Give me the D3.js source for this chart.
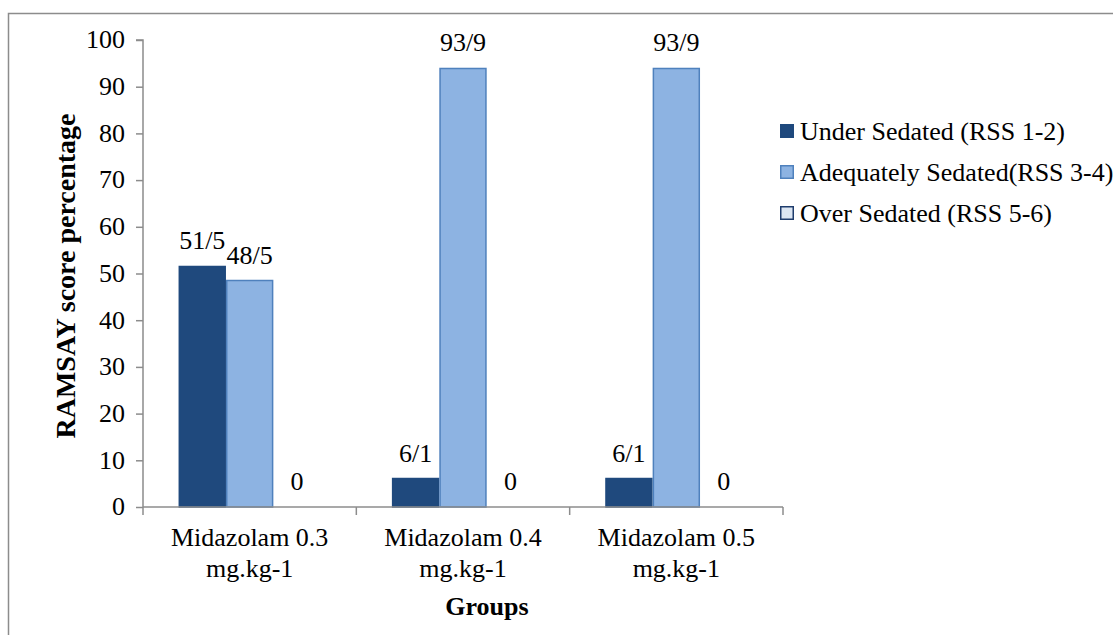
<!DOCTYPE html>
<html>
<head>
<meta charset="utf-8">
<script src="https://cdn.jsdelivr.net/npm/d3@7"></script>
<style>
  html, body { margin: 0; padding: 0; background: #fff; }
  svg { display: block; }
</style>
</head>
<body>
<svg id="chart" width="1113" height="635"></svg>
<script>
const categories = [["Midazolam 0.3", "mg.kg-1"], ["Midazolam 0.4", "mg.kg-1"], ["Midazolam 0.5", "mg.kg-1"]];
const seriesNames = ["Under Sedated (RSS 1-2)", "Adequately Sedated(RSS 3-4)", "Over Sedated (RSS 5-6)"];
const underSedated = [51.5, 6.1, 6.1];
const adequatelySedated = [48.5, 93.9, 93.9];
const overSedated = [0, 0, 0];
const underLabels = ["51/5", "6/1", "6/1"];
const adequateLabels = ["48/5", "93/9", "93/9"];
const overLabels = ["0", "0", "0"];
const yTicks = [0, 10, 20, 30, 40, 50, 60, 70, 80, 90, 100];

const FONT = '"Liberation Serif", "Times New Roman", Tinos, serif';
const fills = ["#1F497D", "#8DB3E2", "#DCE6F2"];
const strokes = ["#1F497D", "#4F81BD", "#1F3D6D"];

const svg = d3.select("#chart");

// outer chart frame
svg.append("rect").attr("x", 8.5).attr("y", 13.5).attr("width", 1200).attr("height", 700)
  .attr("fill", "none").attr("stroke", "#8c8c8c").attr("stroke-width", 1.5);

const plot = { left: 143, right: 783, top: 40, bottom: 507 };

const x0 = d3.scaleBand().domain(d3.range(categories.length)).range([plot.left, plot.right]).paddingInner(0).paddingOuter(0);
// gap width 150%: 3 bars + 1.5 bar-widths of gap per category
const x1 = d3.scaleBand().domain([0, 1, 2]).range([0, x0.bandwidth()]).paddingInner(0).paddingOuter(0.75);
const y = d3.scaleLinear().domain([0, 100]).range([plot.bottom, plot.top]);

const seriesVals = [underSedated, adequatelySedated, overSedated];
const seriesLabels = [underLabels, adequateLabels, overLabels];

// Y axis
const yAxis = d3.axisLeft(y).tickValues(yTicks).tickSize(7).tickPadding(11);
const gy = svg.append("g").attr("transform", `translate(${plot.left},0)`).call(yAxis)
  .attr("font-family", FONT).attr("font-size", 26);
gy.selectAll("path, line").attr("stroke", "#8c8c8c").attr("stroke-width", 1.5);
gy.select(".domain").attr("d", `M-7,${plot.top}H0V${plot.bottom}`);
gy.selectAll("text").attr("fill", "#000").attr("dy", "0.3em");

// Bars
categories.forEach((c, ci) => {
  seriesVals.forEach((vals, si) => {
    const v = vals[ci];
    const bx = x0(ci) + x1(si);
    const bw = x1.bandwidth();
    if (v > 0) {
      svg.append("rect")
        .attr("x", bx + 0.75).attr("y", y(v))
        .attr("width", bw - 1.5).attr("height", y(0) - y(v))
        .attr("fill", fills[si]).attr("stroke", strokes[si]).attr("stroke-width", 1.5);
    }
    svg.append("text")
      .attr("x", bx + bw / 2).attr("y", y(v) - 17)
      .attr("text-anchor", "middle").attr("font-family", FONT).attr("font-size", 26)
      .text(seriesLabels[si][ci]);
  });
});

// X axis
const gx = svg.append("g").attr("transform", `translate(0,${plot.bottom})`);
gx.append("line").attr("x1", plot.left).attr("x2", plot.right).attr("y1", 0).attr("y2", 0)
  .attr("stroke", "#8c8c8c").attr("stroke-width", 1.5);
const boundaries = d3.range(categories.length + 1).map(i => i < categories.length ? x0(i) : plot.right);
gx.selectAll("line.tick").data(boundaries).enter().append("line")
  .attr("x1", d => d).attr("x2", d => d).attr("y1", 0).attr("y2", 8)
  .attr("stroke", "#8c8c8c").attr("stroke-width", 1.5);
categories.forEach((c, ci) => {
  const cx = x0(ci) + x0.bandwidth() / 2;
  const t = gx.append("text").attr("x", cx).attr("y", 39)
    .attr("text-anchor", "middle").attr("font-family", FONT).attr("font-size", 26);
  c.forEach((line, li) => {
    t.append("tspan").attr("x", cx).attr("dy", li === 0 ? 0 : 31).text(line);
  });
});

// Axis titles
svg.append("text").attr("transform", `translate(75,276) rotate(-90)`)
  .attr("text-anchor", "middle").attr("font-family", FONT).attr("font-size", 28).attr("font-weight", "bold")
  .text("RAMSAY score percentage");
svg.append("text").attr("x", 487).attr("y", 615)
  .attr("text-anchor", "middle").attr("font-family", FONT).attr("font-size", 26).attr("font-weight", "bold")
  .text("Groups");

// Legend
const legend = svg.append("g");
seriesNames.forEach((name, i) => {
  const cy = 131 + i * 41;
  legend.append("rect").attr("x", 780.75).attr("y", cy - 6.25).attr("width", 12.5).attr("height", 12.5)
    .attr("fill", fills[i]).attr("stroke", strokes[i]).attr("stroke-width", 1.5);
  legend.append("text").attr("x", 800).attr("y", cy + 8.5).attr("font-family", FONT).attr("font-size", 26).text(name);
});
</script>
</body>
</html>
